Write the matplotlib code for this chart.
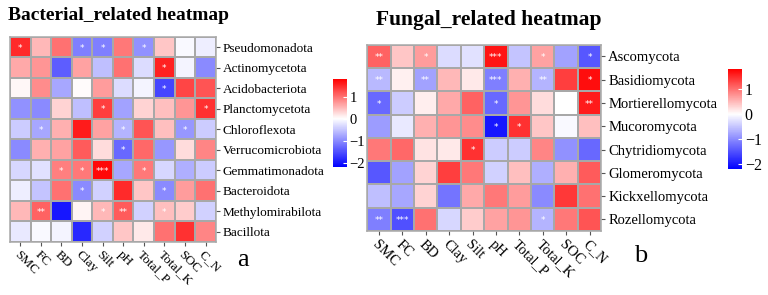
import numpy as np
import matplotlib
matplotlib.use("Agg")
from matplotlib import pyplot as plt
from matplotlib.colors import LinearSegmentedColormap, Normalize

plt.rcParams['font.family'] = ['Liberation Serif', 'DejaVu Serif']

env = ["SMC", "FC", "BD", "Clay", "Silt", "pH", "Total_P", "Total_K", "SOC", "C_N"]

bac_taxa = ["Pseudomonadota", "Actinomycetota", "Acidobacteriota", "Planctomycetota",
            "Chloroflexota", "Verrucomicrobiota", "Gemmatimonadota", "Bacteroidota",
            "Methylomirabilota", "Bacillota"]
bac_vals = [
    [1.5, 0.5, 1.0, -1.1, -1.1, 0.95, -0.95, 0.4, -0.05, -0.15],
    [0.6, 0.75, -1.4, 0.65, -0.55, 1.0, -0.3, 1.55, -0.1, -1.0],
    [0.05, 0.8, -0.75, 0.02, 0.7, -0.3, -0.1, -1.6, 1.3, 1.2],
    [-0.95, -1.0, 0.3, -0.55, 1.35, -0.8, 0.3, 0.45, 0.75, 1.45],
    [-0.45, -0.75, 0.55, 1.6, 0.65, -0.65, 1.2, 0.45, -0.9, -0.45],
    [-1.0, 0.55, 0.65, 1.15, 0.25, -1.3, 1.05, -0.9, 0.25, 0.85],
    [-0.35, -0.25, 0.9, 0.95, 1.75, -0.75, 0.95, -0.35, -0.7, -0.45],
    [-0.15, -0.5, 1.0, -1.0, -0.4, 1.5, 0.4, -1.0, 0.7, 1.0],
    [0.5, 1.1, -2.0, 0.08, 0.5, 1.15, -0.4, 0.45, 0.35, -0.4],
    [-0.2, -0.05, -0.1, -1.85, -0.4, 0.4, 0.15, 1.0, 1.45, 0.85],
]
bac_sig = [
    ["*", "", "", "*", "*", "", "*", "", "", ""],
    ["", "", "", "", "", "", "", "*", "", ""],
    ["", "", "", "", "", "", "", "*", "", ""],
    ["", "", "", "", "*", "", "", "", "", "*"],
    ["", "*", "", "", "", "*", "", "", "*", ""],
    ["", "", "", "", "", "*", "", "", "", ""],
    ["", "", "*", "*", "***", "", "*", "", "", ""],
    ["", "", "", "*", "", "", "", "*", "", ""],
    ["", "**", "", "", "*", "**", "", "*", "", ""],
    ["", "", "", "", "", "", "", "", "", ""],
]

fun_taxa = ["Ascomycota", "Basidiomycota", "Mortierellomycota", "Mucoromycota",
            "Chytridiomycota", "Glomeromycota", "Kickxellomycota", "Rozellomycota"]
fun_vals = [
    [1.1, 0.4, 0.7, -0.3, -0.25, 1.65, -0.5, 0.65, -0.8, -1.45],
    [-0.6, 0.1, -0.8, 0.5, 0.15, -1.1, 0.55, -0.65, 1.35, 1.7],
    [-1.3, -0.45, 0.12, 0.6, 1.1, -1.3, 0.75, 0.25, 0.0, 1.6],
    [-0.85, -0.2, 0.55, 0.75, 0.8, -2.0, 1.45, 0.4, -0.05, 0.45],
    [0.95, 1.05, 0.2, 0.15, 1.45, -0.45, -0.45, 0.85, -0.95, -1.3],
    [-1.45, -0.8, 0.3, 1.35, 0.95, -0.4, 0.45, -0.7, 0.55, 1.15],
    [-0.55, -0.75, 0.3, -1.2, 0.6, 0.95, 0.7, -1.0, 1.4, 1.0],
    [-1.1, -1.5, 1.0, -0.35, 0.35, 0.65, 0.75, -0.65, 0.95, 1.2],
]
fun_sig = [
    ["**", "", "*", "", "", "***", "", "*", "", "*"],
    ["**", "", "**", "", "", "***", "", "**", "", "*"],
    ["*", "", "", "", "", "*", "", "", "", "**"],
    ["", "", "", "", "", "*", "*", "", "", ""],
    ["", "", "", "", "*", "", "", "", "", ""],
    ["", "", "", "", "", "", "", "", "", ""],
    ["", "", "", "", "", "", "", "", "", ""],
    ["**", "***", "", "", "", "", "", "*", "", ""],
]

vmin, vmax = -2.2, 1.8
cmap = LinearSegmentedColormap.from_list(
    "bwr2", [(0, "#0000ff"), (-vmin / (vmax - vmin), "#ffffff"), (1, "#ff0000")])
norm = Normalize(vmin, vmax)
grid = "#a8a8a8"


def draw_heat(ax, cax, vals, sig, rows, fs):
    vals = np.array(vals)
    nr, nc = vals.shape
    m = ax.pcolormesh(vals, cmap=cmap, norm=norm, edgecolors=grid, linewidth=1.1)
    ax.set_xlim(0, nc)
    ax.set_ylim(nr, 0)
    for i in range(nr):
        for j in range(nc):
            if sig[i][j]:
                ax.text(j + 0.5, i + 0.55, sig[i][j], color="white", fontsize=6.5,
                        ha="center", va="center", fontfamily="DejaVu Sans")
    ax.set_xticks(np.arange(nc) + 0.5)
    ax.set_xticklabels(env, rotation=-45, ha="left", va="top",
                       rotation_mode="anchor", fontsize=fs)
    ax.yaxis.tick_right()
    ax.set_yticks(np.arange(nr) + 0.5)
    ax.set_yticklabels(rows, fontsize=fs)
    ax.tick_params(length=3, width=0.8, color="#555555", pad=2)
    for s in ax.spines.values():
        s.set_color(grid)
        s.set_linewidth(1.1)
    cb = fig.colorbar(m, cax=cax, ticks=[1, 0, -1, -2])
    cb.outline.set_visible(False)
    cb.ax.set_yticklabels(["1", "0", "\u22121", "\u22122"], fontsize=fs + 1)
    cb.ax.tick_params(length=3, width=0.8, color="white", direction="in", pad=2)


fig = plt.figure(figsize=(7.68, 2.95), dpi=100)

ax1 = fig.add_axes([0.013, 0.180, 0.268, 0.695])
cax1 = fig.add_axes([0.4336, 0.434, 0.0182, 0.298])
draw_heat(ax1, cax1, bac_vals, bac_sig, bac_taxa, 9.5)

ax2 = fig.add_axes([0.478, 0.217, 0.305, 0.631])
cax2 = fig.add_axes([0.948, 0.427, 0.0182, 0.339])
draw_heat(ax2, cax2, fun_vals, fun_sig, fun_taxa, 10.5)

fig.text(0.0104, 0.946, "Bacterial_related heatmap", fontsize=14, fontweight="bold",
         ha="left", va="center")
fig.text(0.4896, 0.932, "Fungal_related heatmap", fontsize=15.5, fontweight="bold",
         ha="left", va="center")
fig.text(243 / 768, 1 - 260 / 295, "a", fontsize=19, ha="center", va="center")
fig.text(641 / 768, 1 - 256 / 295, "b", fontsize=19, ha="center", va="center")

plt.savefig("out.png", dpi=100)
